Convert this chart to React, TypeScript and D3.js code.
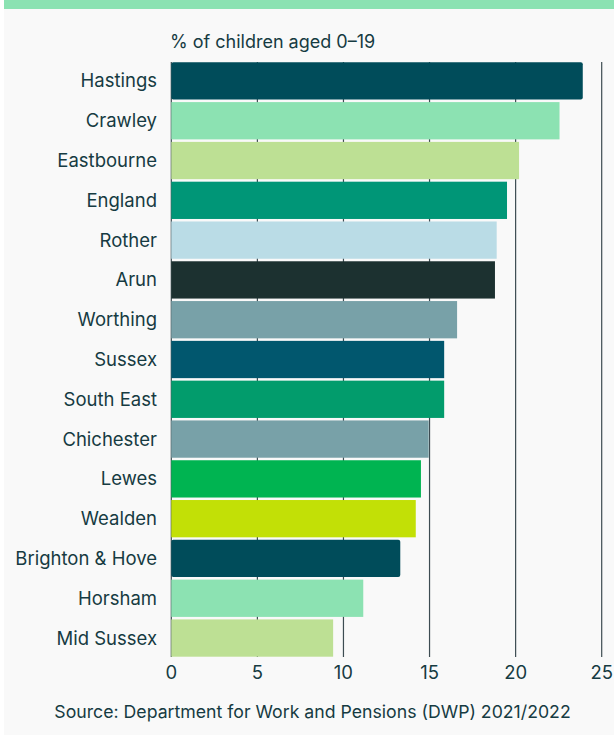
import React from "react";
import * as d3 from "d3";

const categories = [
  "Hastings", "Crawley", "Eastbourne", "England", "Rother", "Arun", "Worthing",
  "Sussex", "South East", "Chichester", "Lewes", "Wealden", "Brighton & Hove",
  "Horsham", "Mid Sussex",
];
const values = [23.9, 22.55, 20.2, 19.5, 18.9, 18.8, 16.6, 15.85, 15.85, 14.95, 14.5, 14.2, 13.3, 11.15, 9.4];
const barColors = [
  "#004c5a", "#8ce2b2", "#bde094", "#009677", "#badce6", "#1c3130", "#78a1a8",
  "#01576e", "#029c6c", "#78a1a8", "#00b451", "#c2e006", "#004c5a", "#8ce2b2", "#bde094",
];
const ticks = [0, 5, 10, 15, 20, 25];
const axisTitle = "% of children aged 0–19";
const source = "Source: Department for Work and Pensions (DWP) 2021/2022";

const W = 614;
const H = 735;
const FONT = "Inter, 'Noto Sans', sans-serif";
const TEXT = "#163b42";

export default function App() {
  const x = d3.scaleLinear().domain([0, 25]).range([171.3, 601.7]);
  const y = d3
    .scaleBand<string>()
    .domain(categories)
    .range([61.05, 657.95])
    .paddingInner(0.063)
    .paddingOuter(0.0315);

  return (
    <svg
      width={W}
      height={H}
      style={{ position: "absolute", left: 0, top: 0 }}
      fontFamily={FONT}
    >
      <rect x={0} y={0} width={W} height={H} fill="#ffffff" />
      <rect x={4} y={0} width={W - 4} height={H} fill="#f9f9f9" />
      <rect x={4} y={0} width={W - 4} height={9} fill="#8be2b2" />
      <text x={170} y={48} fontSize={18} fill={TEXT}>
        {axisTitle}
      </text>
      {ticks.map((t) => (
        <line
          key={"g" + t}
          x1={x(t)}
          x2={x(t)}
          y1={62}
          y2={657}
          stroke="#3d4c52"
          strokeWidth={1.2}
        />
      ))}
      {categories.map((c, i) => (
        <rect
          key={c}
          x={x(0)}
          y={y(c)}
          width={x(values[i]) - x(0)}
          height={y.bandwidth()}
          fill={barColors[i]}
          rx={i === 0 || i === 12 ? 2 : 0}
        />
      ))}
      {categories.map((c) => (
        <text
          key={"l" + c}
          x={157}
          y={(y(c) as number) + y.bandwidth() / 2}
          dy="0.35em"
          textAnchor="end"
          fontSize={18.5}
          fill={TEXT}
        >
          {c}
        </text>
      ))}
      {ticks.map((t) => (
        <text
          key={"t" + t}
          x={x(t)}
          y={673}
          dy="0.35em"
          textAnchor="middle"
          fontSize={18.5}
          fill={TEXT}
        >
          {t}
        </text>
      ))}
      <text x={312.5} y={712} dy="0.35em" textAnchor="middle" fontSize={17.7} fill={TEXT}>
        {source}
      </text>
    </svg>
  );
}
